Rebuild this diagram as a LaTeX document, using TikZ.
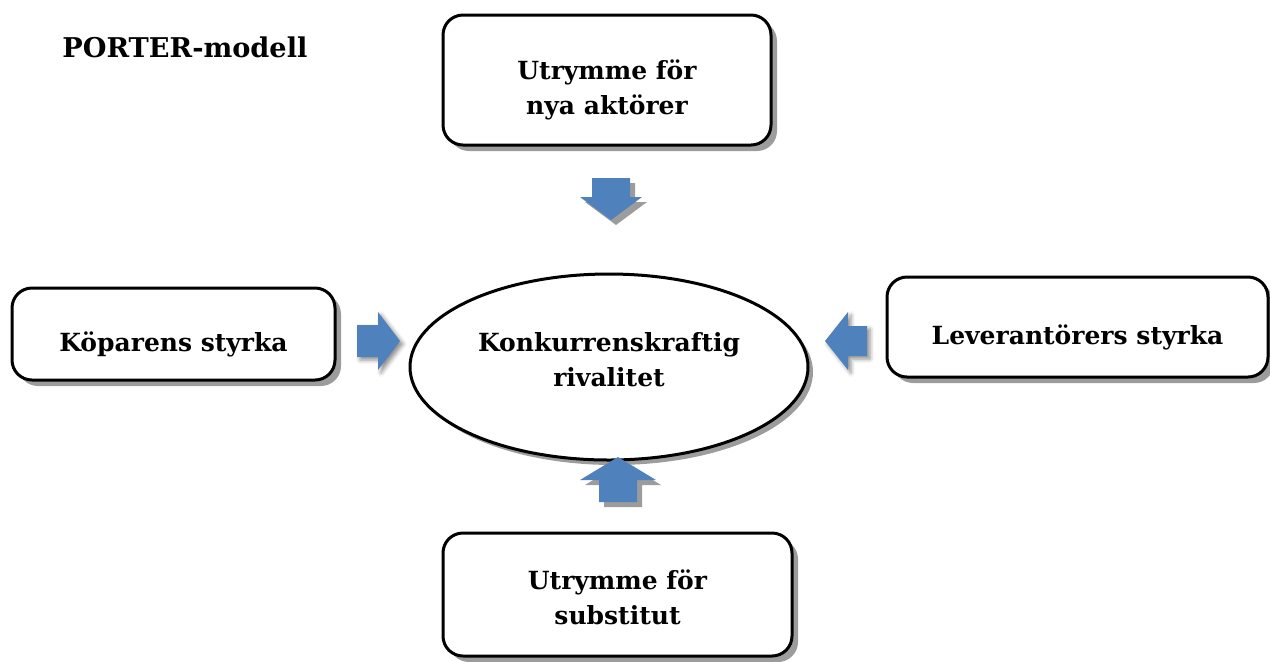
\documentclass[tikz,border=0pt]{standalone}
\usepackage{fontspec}
\setmainfont{DejaVu Serif}
\usetikzlibrary{shapes.geometric,shadows,shadows.blur}
\definecolor{prtBlue}{HTML}{4F81BD}
\definecolor{prtShade}{HTML}{9C9C9C}
\newcommand{\prtfont}{\fontsize{12.5}{17.5}\selectfont\bfseries}
\tikzset{
  box/.style={rounded corners=10pt, draw=black, line width=1.5pt, fill=white,
              inner sep=0pt,
              drop shadow={shadow xshift=3pt, shadow yshift=-3pt, fill=prtShade, opacity=1}},
  oval/.style={ellipse, draw=black, line width=1.5pt, fill=white, inner sep=0pt,
              drop shadow={shadow xshift=2.5pt, shadow yshift=-2.5pt, fill=prtShade, opacity=1}},
  txt/.style={align=center, font=\prtfont, inner sep=0pt},
  vflow/.style={fill=prtBlue,
              drop shadow={shadow xshift=2.5pt, shadow yshift=-2.5pt, fill=prtShade, opacity=1}},
  hflow/.style={fill=prtBlue,
              blur shadow={shadow xshift=1.5pt, shadow yshift=-1.5pt, shadow blur radius=2pt,
                           shadow opacity=45}},
  ttl/.style={font=\fontsize{13.6}{16}\selectfont\bfseries, inner sep=0pt, anchor=west},
}
\begin{document}
\begin{tikzpicture}[x=0.5pt,y=-0.5pt]
  \useasboundingbox (0,0) rectangle (1270,661);
  % title
  \node[ttl] (title) at (62,47) {PORTER-modell};
  % the five forces
  \node[box,minimum width=164pt,minimum height=65pt,
        label={[txt,yshift=-5pt]center:Utrymme för\\nya aktörer}] (nya) at (607,80) {};
  \node[box,minimum width=161.5pt,minimum height=46pt,
        label={[txt,yshift=-5pt]center:Köparens styrka}] (kop) at (173.5,334) {};
  \node[box,minimum width=190.5pt,minimum height=50pt,
        label={[txt,yshift=-5pt]center:Leverantörers styrka}] (lev) at (1077.5,327) {};
  \node[box,minimum width=174.5pt,minimum height=61.5pt,
        label={[txt,yshift=-1.5pt]center:Utrymme för\\substitut}] (sub) at (617.5,594.5) {};
  \node[oval,minimum width=199pt,minimum height=93pt,
        label={[txt,yshift=3.5pt]center:Konkurrenskraftig\\rivalitet}] (riv) at (609,367) {};
  % block arrows towards the rivalry
  \coordinate (tipN) at (611,220);
  \coordinate (tipS) at (618,457);
  \coordinate (tipW) at (400,341);
  \coordinate (tipE) at (825,341);
  \fill[vflow] (tipN) -- ++(-31,-23) -- ++(12,0) -- ++(0,-19) -- ++(38,0)
        -- ++(0,19) -- ++(12,0) -- cycle;
  \fill[vflow] (tipS) -- ++(-38,23) -- ++(19,0) -- ++(0,22) -- ++(38,0)
        -- ++(0,-22) -- ++(19,0) -- cycle;
  \fill[hflow] (tipW) -- ++(-22,-29) -- ++(0,13) -- ++(-21,0) -- ++(0,32)
        -- ++(21,0) -- ++(0,13) -- cycle;
  \fill[hflow] (tipE) -- ++(23,-29) -- ++(0,14) -- ++(19,0) -- ++(0,30)
        -- ++(-19,0) -- ++(0,14) -- cycle;
\end{tikzpicture}
\end{document}
